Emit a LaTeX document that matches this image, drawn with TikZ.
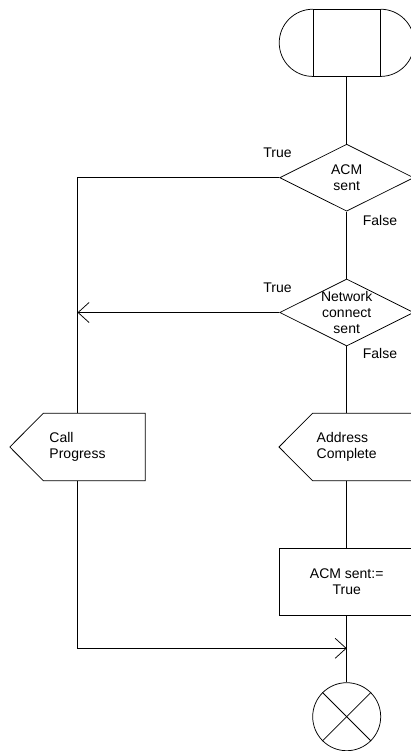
\documentclass[tikz,border=0pt]{standalone}
\usepackage{fontspec}
\setmainfont{Liberation Sans}
\usetikzlibrary{arrows.meta,shapes.geometric}

\begin{document}
\begin{tikzpicture}[x=1pt,y=-1pt,
    >={Straight Barb[length=11pt,width=20pt]},
    flow/.style={draw=black,line width=0.75pt},
    sdltext/.style={font=\fontsize{14}{16}\selectfont},
    startbox/.style={flow,rectangle,minimum width=67pt,minimum height=67pt,inner sep=0pt},
    decision/.style={flow,diamond,minimum width=134pt,minimum height=67pt,inner sep=0pt},
    outsig/.style={rectangle,minimum width=135pt,minimum height=67pt,inner sep=0pt,
      align=left,sdltext},
    taskbox/.style={flow,rectangle,minimum width=135pt,minimum height=67pt,inner sep=0pt,
      align=center,sdltext},
    stopsym/.style={flow,circle,minimum size=68pt,inner sep=0pt},
    lbl/.style={sdltext,inner sep=0pt,align=center}
  ]
  \useasboundingbox (0,0) rectangle (411,751);

  % start symbol
  \node[startbox] (start) at (346.7,43.1) {};
  \draw[flow] (start.north west) arc[start angle=90,end angle=270,radius=33.6pt];
  \draw[flow] (start.north east) arc[start angle=90,end angle=-90,radius=33.6pt];

  % decisions
  \node[decision] (acm) at (346.7,177.7) {};
  \node[lbl] (acmtxt) at (acm) {ACM\\sent};
  \node[lbl] (acmtrue) at (277.5,152.3) {True};
  \node[lbl] (acmfalse) at (380,220) {False};

  \node[decision] (net) at (346.7,312.5) {};
  \node[lbl] (nettxt) at (net) {Network\\connect\\sent};
  \node[lbl] (nettrue) at (277.5,287.3) {True};
  \node[lbl] (netfalse) at (380,353.3) {False};

  % outputs
  \node[outsig] (callprog) at (77.5,447) {Call\\Progress};
  \node[outsig] (addr) at (346.7,447) {Address\\Complete};
  \foreach \sig in {callprog,addr}
    \draw[flow] ([xshift=33.5pt]\sig.north west) -- (\sig.north east)
      -- (\sig.south east) -- ([xshift=33.5pt]\sig.south west) -- (\sig.west) -- cycle;

  % task and stop
  \node[taskbox] (setacm) at (346.7,581.7) {ACM sent:=\\True};
  \coordinate (join) at (346.7,648.3);
  \node[stopsym] (stop) at (346.7,716.7) {};
  \draw[flow] (stop.north west) -- (stop.south east);
  \draw[flow] (stop.north east) -- (stop.south west);

  \draw[flow] (start.south) -- (acm.north);
  \draw[flow] (acm.south) -- (net.north);
  \draw[flow] (acm.west) -| (callprog.north);
  \draw[flow,->] (net.west) -- (net.west -| callprog.north);
  \draw[flow] (net.south) -- (addr.north);
  \draw[flow] (addr.south) -- (setacm.north);
  \draw[flow] (setacm.south) -- (stop.north);
  \draw[flow,->] (callprog.south) |- (join);
\end{tikzpicture}
\end{document}
